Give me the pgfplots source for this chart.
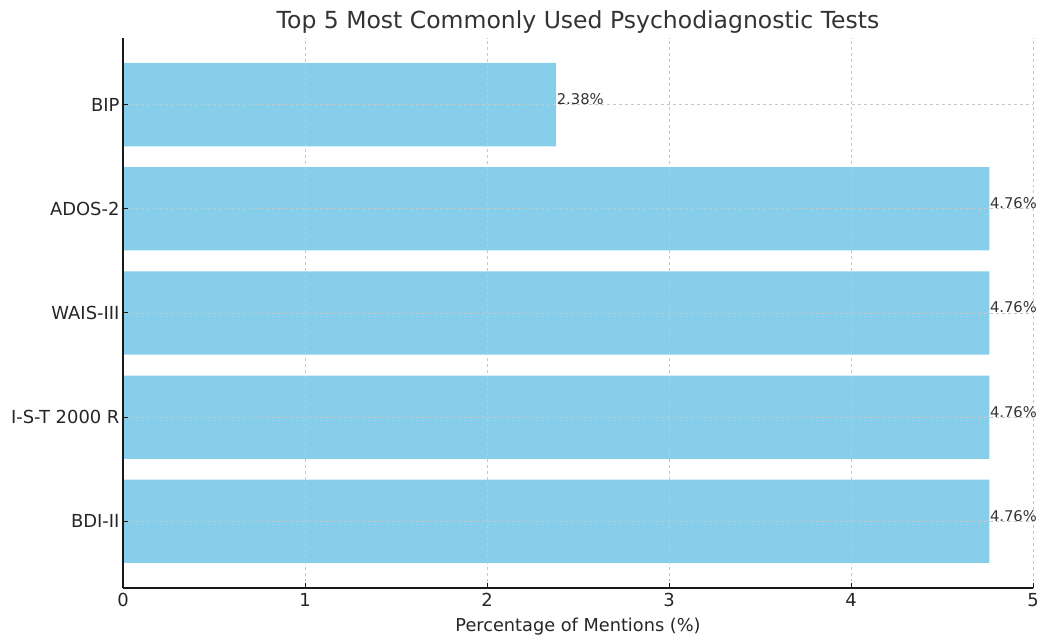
\documentclass[border=0pt]{standalone}
\usepackage{fontspec}
\setmainfont{DejaVu Sans}
\usepackage{pgfplots}
\pgfplotsset{compat=1.18}
\definecolor{skyblue}{HTML}{87CEEB}
\begin{document}
\begin{tikzpicture}[x=1bp,y=1bp]
\begin{axis}[
  /pgf/number format/assume math mode=true,
  scale only axis, width=910bp, height=550bp,
  xmin=0, xmax=5, ymin=-0.64, ymax=4.64,
  xbar, bar width=83.3bp, bar shift=0pt,
  axis x line*=bottom, axis y line*=left,
  axis line style={line width=1.2bp, black!90},
  tick align=inside, major tick length=5bp,
  tick style={line width=1bp, black!90},
  xtick={0,1,2,3,4,5}, ytick={0,1,2,3,4},
  yticklabels={BDI-II,I-S-T 2000 R,WAIS-III,ADOS-2,BIP},
  tick label style={font=\fontsize{18}{21}\selectfont, text=black!85},
  xticklabel style={yshift=-2bp},
  xmajorgrids, ymajorgrids,
  grid style={dashed, black!22, line width=0.8bp},
  axis on top,
  title={Top 5 Most Commonly Used Psychodiagnostic Tests},
  title style={at={(axis description cs:0.5,1)}, anchor=base, yshift=4bp, font=\fontsize{23.6}{27}\selectfont, text=black!80},
  xlabel={Percentage of Mentions (\%)},
  xlabel style={at={(axis description cs:0.5,0)}, anchor=base, yshift=-44bp, font=\fontsize{17.8}{21}\selectfont, text=black!85},
  point meta=x,
  nodes near coords={\pgfmathprintnumber[fixed,precision=2,fixed zerofill]{\pgfplotspointmeta}\%},
  every node near coord/.append style={anchor=base west, inner sep=0pt, xshift=0.5bp, font=\fontsize{14.8}{17}\selectfont, text=black!80},
]
\addplot[fill=skyblue, draw=none] coordinates {(4.76,0) (4.76,1) (4.76,2) (4.76,3) (2.38,4)};
\coordinate (o) at (rel axis cs:0,0);
\end{axis}
\pgfresetboundingbox
\path (o) ++(-123,-52) rectangle ++(1042,640);
\end{tikzpicture}
\end{document}
